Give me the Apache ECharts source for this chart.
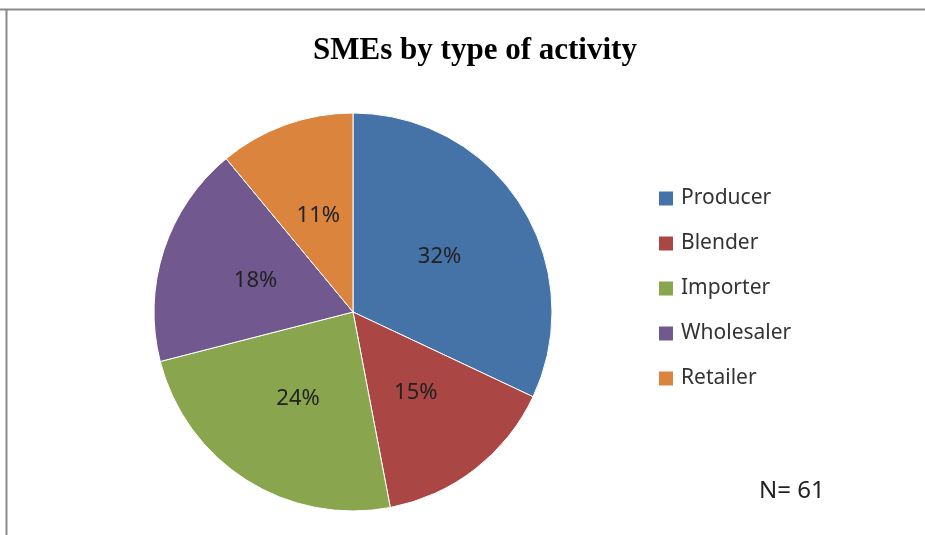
<!DOCTYPE html>
<html>
<head>
<meta charset="utf-8">
<script src="https://cdn.jsdelivr.net/npm/echarts@6/dist/echarts.min.js"></script>
<style>
  html, body { margin: 0; padding: 0; background: #fff; }
  #main { width: 925px; height: 535px; }
</style>
</head>
<body>
<div id="main"></div>
<script>
// SMEs by activity type (%)
const categories = ['Producer', 'Blender', 'Importer', 'Wholesaler', 'Retailer'];
const shares = [32, 15, 24, 18, 11];
const colors = ['#4572A7', '#AA4643', '#89A54E', '#71588F', '#DB843D'];
const sampleNote = 'N= 61';

const pieData = categories.map((name, i) => ({ name: name, value: shares[i] }));

var myChart = echarts.init(document.getElementById('main'));
myChart.setOption({
  animation: false,
  color: colors,
  title: {
    text: 'SMEs by type of activity',
    left: 470,
    top: 30,
    textAlign: 'center',
    textStyle: {
      fontFamily: 'Liberation Serif',
      fontWeight: 'bold',
      fontSize: 31,
      color: '#000'
    }
  },
  legend: {
    orient: 'vertical',
    left: 652,
    top: 183,
    itemWidth: 16,
    itemHeight: 16,
    itemGap: 24,
    icon: 'rect',
    data: categories,
    textStyle: {
      fontFamily: 'Noto Sans',
      fontSize: 21,
      color: '#333',
      padding: [0, 0, 0, 2]
    }
  },
  graphic: [
    { type: 'line', shape: { x1: 0, y1: 9.5, x2: 925, y2: 9.5 }, style: { stroke: '#8a8a8a', lineWidth: 2 } },
    { type: 'line', shape: { x1: 6.5, y1: 9, x2: 6.5, y2: 535 }, style: { stroke: '#8a8a8a', lineWidth: 2 } },
    {
      type: 'text',
      left: 759,
      top: 479,
      style: { text: sampleNote, fontFamily: 'Noto Sans', fontSize: 24, fill: '#222' }
    }
  ],
  series: [{
    type: 'pie',
    center: [353, 312],
    radius: 199,
    startAngle: 90,
    clockwise: true,
    data: pieData,
    itemStyle: { borderColor: '#fff', borderWidth: 1 },
    label: {
      position: 'inside',
      formatter: '{c}%',
      fontFamily: 'Noto Sans',
      fontSize: 22,
      color: '#222'
    },
    labelLine: { show: false },
    emphasis: { disabled: true }
  }]
});
</script>
</body>
</html>
